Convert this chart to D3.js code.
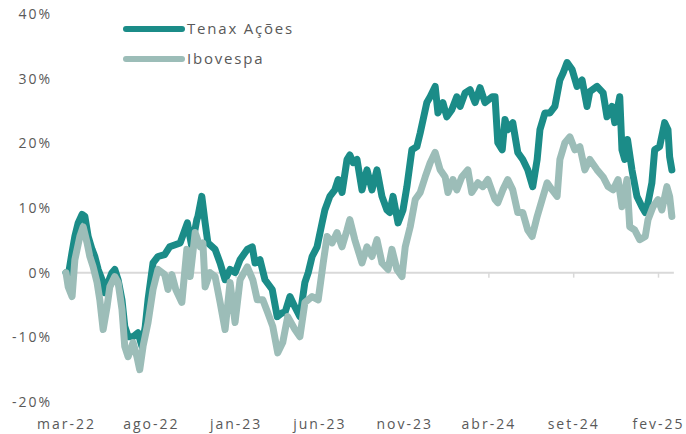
<!DOCTYPE html>
<html>
<head>
<meta charset="utf-8">
<script src="https://cdn.jsdelivr.net/npm/d3@7"></script>
<style>
  body { margin: 0; background: #fff; }
  text { font-family: "Open Sans", sans-serif; fill: #595959; }
</style>
</head>
<body>
<svg id="chart" width="686" height="434"></svg>
<script>
// cumulative return (%)
const tenaxDates = ["2022-03-01","2022-03-05","2022-03-12","2022-03-17","2022-03-23","2022-03-30","2022-04-04","2022-04-10","2022-04-17","2022-04-22","2022-04-28","2022-05-05","2022-05-10","2022-05-16","2022-05-23","2022-05-28","2022-06-03","2022-06-10","2022-06-15","2022-06-21","2022-06-30","2022-07-09","2022-07-16","2022-07-22","2022-07-27","2022-08-05","2022-08-14","2022-08-26","2022-09-04","2022-09-23","2022-10-06","2022-10-14","2022-10-23","2022-10-25","2022-11-01","2022-11-07","2022-11-12","2022-11-25","2022-12-04","2022-12-13","2022-12-22","2022-12-31","2023-01-09","2023-01-22","2023-01-31","2023-02-05","2023-02-14","2023-02-23","2023-03-08","2023-03-17","2023-03-26","2023-03-31","2023-04-09","2023-04-18","2023-04-27","2023-05-06","2023-05-12","2023-05-19","2023-05-28","2023-06-06","2023-06-11","2023-06-20","2023-06-29","2023-07-05","2023-07-12","2023-07-21","2023-07-26","2023-08-01","2023-08-08","2023-08-17","2023-08-26","2023-09-04","2023-09-13","2023-09-22","2023-10-01","2023-10-06","2023-10-12","2023-10-21","2023-10-30","2023-11-06","2023-11-15","2023-11-24","2023-11-30","2023-12-12","2023-12-18","2023-12-27","2024-01-01","2024-01-10","2024-01-17","2024-01-26","2024-02-04","2024-02-10","2024-02-19","2024-02-28","2024-03-08","2024-03-17","2024-03-26","2024-04-08","2024-04-13","2024-04-18","2024-04-26","2024-05-01","2024-05-06","2024-05-15","2024-05-24","2024-06-02","2024-06-11","2024-06-20","2024-06-28","2024-07-03","2024-07-12","2024-07-21","2024-07-30","2024-08-08","2024-08-14","2024-08-21","2024-08-30","2024-09-08","2024-09-17","2024-09-26","2024-10-01","2024-10-14","2024-10-25","2024-11-01","2024-11-10","2024-11-15","2024-11-24","2024-11-28","2024-12-03","2024-12-08","2024-12-16","2024-12-25","2025-01-03","2025-01-09","2025-01-14","2025-01-21","2025-01-26","2025-02-04","2025-02-13","2025-02-19","2025-02-22","2025-02-26"];
const tenaxValues = [0.0,-0.5,3.2,5.6,7.7,9.0,8.7,5.6,3.6,2.5,0.5,-1.1,-3.1,-1.5,0.0,0.5,-1.1,-4.2,-8.3,-9.9,-9.9,-9.3,-11.4,-8.3,-4.2,1.5,2.5,2.8,4.0,4.6,7.7,4.0,8.2,8.7,11.8,7.7,4.6,3.6,1.5,-1.1,0.5,0.0,2.0,3.6,4.0,1.5,2.0,-1.1,-2.6,-6.8,-6.2,-6.2,-3.7,-5.3,-6.8,-1.5,0.0,2.5,4.0,7.7,9.7,11.8,12.8,14.4,12.4,17.5,18.2,17.0,17.5,12.8,15.9,12.8,15.9,11.8,9.7,9.3,11.8,7.7,9.7,13.3,19.0,19.5,21.6,26.3,27.2,28.8,24.7,26.3,24.1,25.2,27.2,25.7,27.8,28.3,26.3,28.6,26.3,27.2,27.2,20.1,19.0,23.7,22.1,23.2,18.6,17.5,15.9,13.3,17.5,22.1,24.7,24.7,25.7,29.8,30.9,32.5,31.4,28.8,29.8,25.7,28.0,28.8,27.8,24.1,25.7,23.2,27.2,19.0,17.5,20.6,15.9,11.8,10.2,9.3,10.8,13.9,19.0,19.5,23.2,22.1,17.9,15.9];

const iboDates = ["2022-03-01","2022-03-05","2022-03-12","2022-03-17","2022-03-26","2022-04-01","2022-04-08","2022-04-13","2022-04-19","2022-04-26","2022-05-01","2022-05-07","2022-05-14","2022-05-19","2022-05-28","2022-06-03","2022-06-10","2022-06-15","2022-06-21","2022-06-30","2022-07-07","2022-07-12","2022-07-18","2022-07-27","2022-08-05","2022-08-14","2022-08-26","2022-09-01","2022-09-08","2022-09-15","2022-09-26","2022-10-05","2022-10-11","2022-10-20","2022-10-29","2022-11-03","2022-11-07","2022-11-16","2022-11-25","2022-12-04","2022-12-13","2022-12-22","2022-12-31","2023-01-09","2023-01-22","2023-02-01","2023-02-09","2023-02-19","2023-02-28","2023-03-09","2023-03-18","2023-03-27","2023-04-05","2023-04-18","2023-04-27","2023-05-06","2023-05-19","2023-05-30","2023-06-08","2023-06-15","2023-06-24","2023-07-03","2023-07-12","2023-07-21","2023-07-26","2023-08-04","2023-08-17","2023-08-26","2023-09-04","2023-09-13","2023-09-22","2023-10-03","2023-10-10","2023-10-19","2023-10-28","2023-11-03","2023-11-12","2023-11-21","2023-11-30","2023-12-09","2023-12-18","2023-12-27","2024-01-05","2024-01-14","2024-01-19","2024-01-28","2024-02-04","2024-02-13","2024-02-24","2024-03-02","2024-03-13","2024-03-22","2024-03-31","2024-04-13","2024-04-18","2024-04-27","2024-05-06","2024-05-15","2024-05-24","2024-06-02","2024-06-11","2024-06-19","2024-06-28","2024-07-07","2024-07-16","2024-07-25","2024-08-03","2024-08-08","2024-08-17","2024-08-26","2024-09-04","2024-09-13","2024-09-22","2024-10-01","2024-10-14","2024-10-25","2024-11-03","2024-11-12","2024-11-21","2024-11-28","2024-12-07","2024-12-12","2024-12-21","2024-12-30","2025-01-09","2025-01-14","2025-01-23","2025-02-01","2025-02-08","2025-02-17","2025-02-22","2025-02-26"];
const iboValues = [0.0,-2.2,-3.7,2.0,5.6,7.1,4.6,2.5,0.9,-1.5,-4.2,-8.8,-5.3,-2.2,-0.6,-1.5,-5.7,-11.4,-13.0,-10.8,-13.0,-15.0,-11.4,-7.7,-2.6,0.5,-0.3,-2.6,-0.3,-2.6,-4.6,3.6,-0.6,6.2,4.0,4.6,-2.2,0.0,-0.6,-4.6,-8.8,-1.5,-7.7,-1.1,0.9,-1.1,-4.2,-4.2,-6.2,-8.3,-12.4,-10.8,-6.8,-8.8,-9.9,-4.6,-3.7,-4.2,1.5,5.6,4.6,6.2,4.0,6.6,8.2,5.1,1.5,4.0,2.5,5.1,1.5,0.5,3.6,0.5,-0.6,4.0,7.1,11.3,12.4,14.8,17.0,18.6,15.9,14.8,12.4,14.4,12.8,14.8,15.9,12.4,13.9,13.3,14.4,11.3,10.8,12.8,14.4,12.8,9.3,9.3,6.6,5.6,8.7,11.3,13.9,12.8,11.8,17.5,20.1,21.0,19.0,19.5,15.9,17.5,15.9,14.8,13.3,12.8,14.4,10.2,14.4,7.1,6.6,5.1,5.6,8.2,10.2,11.3,9.7,13.3,11.8,8.7];

const yTicks = [-20, -10, 0, 10, 20, 30, 40];
const xTickDates = ["2022-03-01","2022-08-01","2023-01-01","2023-06-01","2023-11-01","2024-04-01","2024-09-01","2025-02-01"];
const xTickLabels = ["mar-22","ago-22","jan-23","jun-23","nov-23","abr-24","set-24","fev-25"];
const seriesNames = ["Tenax Ações", "Ibovespa"];
const seriesColors = ["#1b8c88", "#9cbdb8"];

const parse = d3.timeParse("%Y-%m-%d");
const svg = d3.select("#chart");

const x = d3.scaleTime()
  .domain([parse("2022-03-01"), parse("2025-02-01")])
  .range([66, 658]);
const y = d3.scaleLinear().domain([-20, 40]).range([402, 14]);

// y axis labels
svg.append("g")
  .attr("transform", "translate(52,0)")
  .call(d3.axisLeft(y).tickValues(yTicks).tickSize(0).tickPadding(0).tickFormat(d => d + "%"))
  .call(g => g.select(".domain").remove())
  .selectAll("text")
  .style("font-size", "14px")
  .style("letter-spacing", "2px")
  .attr("fill", "#595959");

// zero line with month ticks, labels pushed down to the bottom
const xAxis = svg.append("g")
  .attr("transform", `translate(0,${y(0)})`)
  .call(d3.axisBottom(x)
    .tickValues(xTickDates.map(parse))
    .tickSizeInner(5).tickSizeOuter(0)
    .tickPadding(y(-20) - y(0) + 12)
    .tickFormat((d, i) => xTickLabels[i]));
xAxis.select(".domain")
  .attr("d", `M${x(parse("2022-03-01")) - 2},0H${x(parse(tenaxDates[tenaxDates.length - 1])) + 2}`)
  .attr("stroke", "#d9d9d9").attr("stroke-width", 2);
xAxis.selectAll(".tick line").attr("stroke", "#d9d9d9").attr("stroke-width", 1.5);
xAxis.selectAll("text")
  .style("font-size", "14px")
  .style("letter-spacing", "2px")
  .attr("fill", "#595959");

const line = d3.line().x(d => x(d[0])).y(d => y(d[1]));
const series = [
  tenaxDates.map((d, i) => [parse(d), tenaxValues[i]]),
  iboDates.map((d, i) => [parse(d), iboValues[i]])
];

series.forEach((s, i) => {
  svg.append("path")
    .datum(s)
    .attr("d", line)
    .attr("fill", "none")
    .attr("stroke", seriesColors[i])
    .attr("stroke-width", 7)
    .attr("stroke-linejoin", "round")
    .attr("stroke-linecap", "round");
});

// legend
const legend = svg.append("g");
seriesNames.forEach((name, i) => {
  const ly = 29 + i * 30;
  legend.append("line")
    .attr("x1", 126).attr("x2", 182)
    .attr("y1", ly).attr("y2", ly)
    .attr("stroke", seriesColors[i])
    .attr("stroke-width", 6)
    .attr("stroke-linecap", "round");
  legend.append("text")
    .attr("x", 187).attr("y", ly)
    .attr("dy", "0.35em")
    .style("font-size", "15px")
    .style("letter-spacing", "1.8px")
    .text(name);
});
</script>
</body>
</html>
